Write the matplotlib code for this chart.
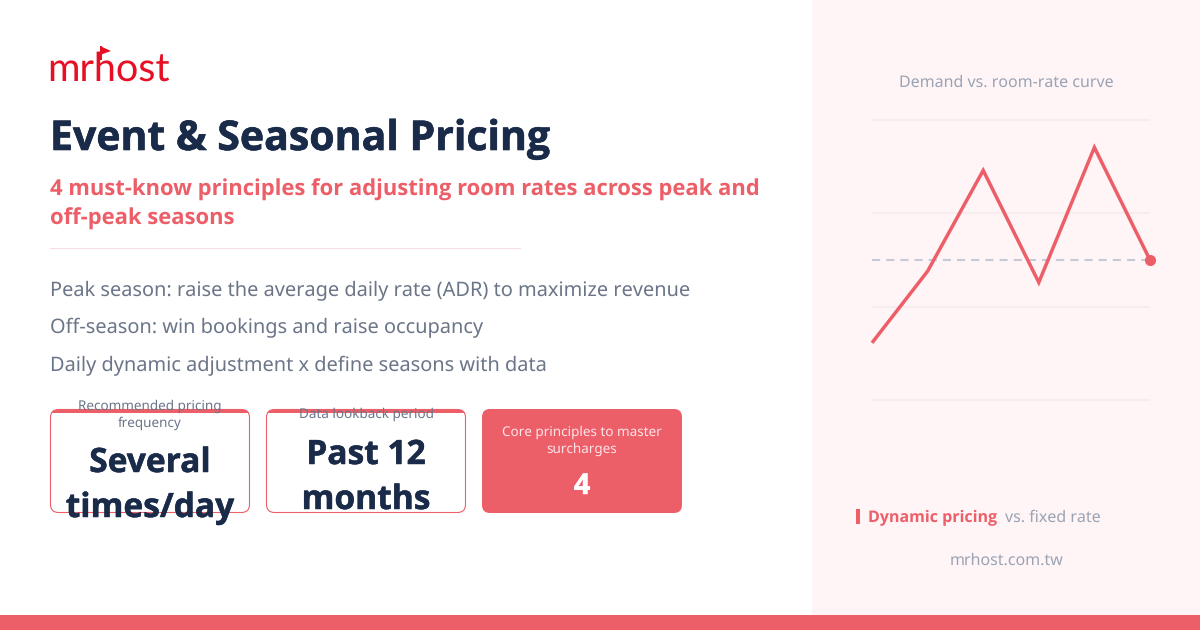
import matplotlib
matplotlib.use("Agg")
import matplotlib.pyplot as plt
import matplotlib.patheffects as pe
from matplotlib.patches import FancyBboxPatch, Rectangle, Polygon

# chart values
curve_x = [0, 1, 2, 3, 4, 5]
curve_y = [20.4, 46, 82, 42, 90.2, 50]
grid_levels = [0, 33.3, 66.7, 100]
baseline = 50

# text
title = "Event & Seasonal Pricing"
subtitle = ["4 must-know principles for adjusting room rates across peak and", "off-peak seasons"]
bullets = [
    "Peak season: raise the average daily rate (ADR) to maximize revenue",
    "Off-season: win bookings and raise occupancy",
    "Daily dynamic adjustment x define seasons with data",
]

RED = "#EC5E68"
NAVY = "#1A2B49"
GREY = "#6B7588"
LIGHT = "#9AA3B4"
PANEL = "#FFF4F6"

plt.rcParams["font.family"] = ["Noto Sans", "DejaVu Sans"]
plt.rcParams["text.hinting"] = "no_hinting"
BOLD = dict(family="Open Sans", fontweight="bold")


def px(size):
    return size * 0.72


def heavy(color, width=0.35):
    # Noto Sans Bold is a little heavier than Open Sans Bold
    return [pe.withStroke(linewidth=width, foreground=color)]


fig = plt.figure(figsize=(12, 6.3), dpi=100, facecolor="white")

# page axes in pixel coordinates
ax = fig.add_axes([0, 0, 1, 1])
ax.set_xlim(0, 1200)
ax.set_ylim(630, 0)
ax.axis("off")

ax.add_patch(Rectangle((812, 0), 388, 630, fc=PANEL, ec="none"))
ax.add_patch(Rectangle((0, 615), 1200, 15, fc=RED, ec="none", zorder=5))

# logo
ax.text(47, 81, "mrhost", fontsize=px(39.5), color="#E60F24", family="Lato", va="baseline")
ax.add_patch(Polygon([(100, 46), (111, 51), (100, 55)], fc="#E60F24", ec="none"))
ax.add_patch(Rectangle((100, 46), 2, 14, fc="#E60F24", ec="none"))

# heading block
ax.text(50, 150, title, fontsize=px(41), color=NAVY, va="baseline",
        path_effects=heavy(NAVY, 0.45), **BOLD)
ax.text(50, 195.5, subtitle[0], fontsize=px(22), color=RED, va="baseline", **BOLD)
ax.text(50, 224.5, subtitle[1], fontsize=px(22), color=RED, va="baseline", **BOLD)
ax.plot([50, 520], [248, 248], color="#F5DDE3", lw=0.8)

for text, y in zip(bullets, [295, 333, 371]):
    ax.text(50, y, text, fontsize=px(19.98), color=GREY, va="baseline")


def card(x, label_lines, label_ys, value_lines, value_ys):
    box = FancyBboxPatch((x + 0.5, 409.5), 199, 103, boxstyle="round,pad=0,rounding_size=8",
                         fc="white", ec=RED, lw=0.8, zorder=2)
    ax.add_patch(box)
    top = Rectangle((x, 409), 200, 4, fc=RED, ec="none", zorder=3)
    ax.add_patch(top)
    top.set_clip_path(box)
    for line, y in zip(label_lines, label_ys):
        ax.text(x + 100, y, line, fontsize=px(13.5), color=GREY, ha="center", va="baseline", zorder=4)
    for line, y in zip(value_lines, value_ys):
        ax.text(x + 100, y, line, fontsize=px(33.5), color=NAVY, ha="center", va="baseline",
                zorder=4, path_effects=heavy(NAVY), **BOLD)


card(50, ["Recommended pricing", "frequency"], [410, 427], ["Several", "times/day"], [472, 517])
card(266, ["Data lookback period"], [418], ["Past 12", "months"], [464, 509])

# filled card
ax.add_patch(FancyBboxPatch((482, 409), 200, 104, boxstyle="round,pad=0,rounding_size=8",
                            fc=RED, ec="none", zorder=2))
ax.text(582, 436, "Core principles to master", fontsize=px(13.5), color="#FFE4E8",
        ha="center", va="baseline", zorder=4)
ax.text(582, 453, "surcharges", fontsize=px(13.5), color="#FFE4E8", ha="center", va="baseline", zorder=4)
ax.text(582, 494, "4", fontsize=px(29), color="white", ha="center", va="baseline", zorder=4,
        path_effects=heavy("white"), **BOLD)

# right panel text
ax.text(1006, 87, "Demand vs. room-rate curve", fontsize=px(16), color=LIGHT, ha="center", va="baseline")
ax.add_patch(Rectangle((856, 509), 4, 15, fc=RED, ec="none"))
ax.text(868, 522, "Dynamic pricing", fontsize=px(16), color=RED, va="baseline", **BOLD)
ax.text(1005, 522, "vs. fixed rate", fontsize=px(16), color=LIGHT, va="baseline")
ax.text(1006.5, 565, "mrhost.com.tw", fontsize=px(16), color=LIGHT, ha="center", va="baseline")

# curve axes
cx = fig.add_axes([872 / 1200, 1 - 400 / 630, 278 / 1200, 280 / 630])
cx.set_xlim(0, 5)
cx.set_ylim(0, 100)
cx.axis("off")
for level in grid_levels:
    cx.plot([0, 5], [level, level], color="#F7ECEE", lw=1.5, clip_on=False, zorder=1, solid_capstyle="butt")
cx.plot([0, 5], [baseline, baseline], color="#C5CAD6", lw=1.5, dashes=(3.9, 2.9), zorder=2)
cx.plot(curve_x, curve_y, color=RED, lw=2.5, solid_joinstyle="miter", solid_capstyle="butt",
        clip_on=False, zorder=3)
cx.plot(curve_x[-1], curve_y[-1], "o", color=RED, ms=8, mew=0, clip_on=False, zorder=4)

fig.savefig("out.png", dpi=100, facecolor="white")
